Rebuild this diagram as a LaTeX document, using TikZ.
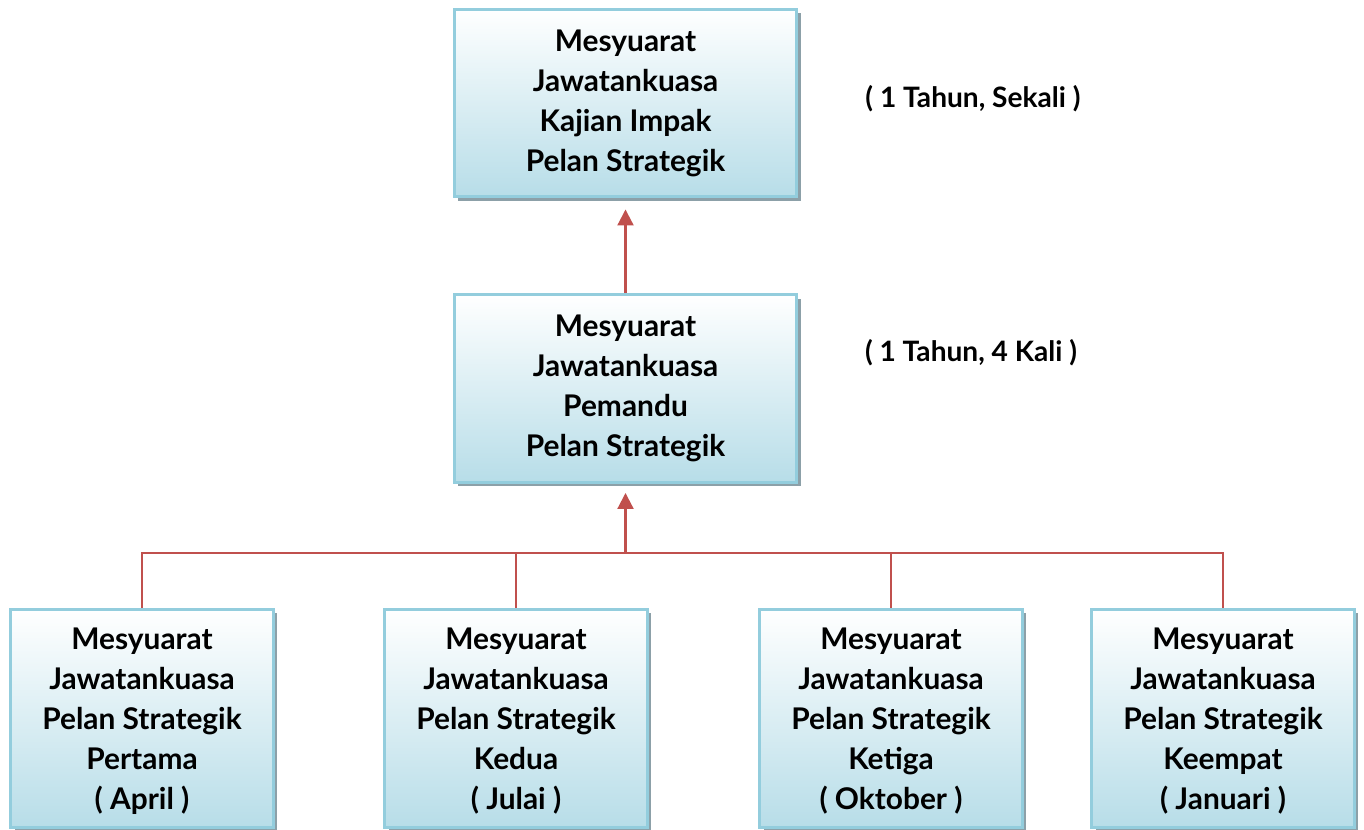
\documentclass[tikz,border=0pt]{standalone}
\usepackage{fontspec}
\setmainfont{Lato}
\usepackage{tikz}
\usetikzlibrary{positioning,arrows.meta,shadows}
\definecolor{boxline}{RGB}{147,205,221}
\definecolor{boxfill}{RGB}{183,221,232}
\definecolor{shadowgrey}{RGB}{140,160,168}
\definecolor{linkred}{RGB}{192,80,77}
\tikzset{
    meet/.style={
        rectangle,
        draw=boxline,
        line width=1.7pt,
        top color=white,
        bottom color=boxfill,
        drop shadow={shadow xshift=0.08cm,shadow yshift=-0.08cm,fill=shadowgrey,opacity=1},
        align=center,
        inner sep=2pt,
        font=\fontsize{17}{22.8}\selectfont\bfseries
    },
    bigmeet/.style={meet,minimum width=6.86cm,minimum height=3.76cm},
    smallmeet/.style={meet,minimum width=5.26cm,minimum height=4.38cm,text depth=-0.1cm},
    link/.style={linkred,line width=1.2pt},
    arr/.style={link,-{Triangle[width=0.32cm,length=0.32cm]}},
    freq/.style={font=\fontsize{16}{19}\selectfont\bfseries}
}
\begin{document}
\begin{tikzpicture}[x=0.02cm,y=-0.02cm]
\useasboundingbox (0,0) rectangle (1364,830);

% Upper levels
\node[bigmeet] (kajian) at (625.5,103) {Mesyuarat\\Jawatankuasa\\Kajian Impak\\Pelan Strategik};
\node[bigmeet] (pemandu) at (625.5,388.5) {Mesyuarat\\Jawatankuasa\\Pemandu\\Pelan Strategik};

\node[freq] (sekali) at (973,99) {( 1 Tahun, Sekali )};
\node[freq] (empat) at (971,353) {( 1 Tahun, 4 Kali )};

% Quarterly meetings
\node[smallmeet] (pertama) at (142,718.5) {Mesyuarat\\Jawatankuasa\\Pelan Strategik\\Pertama\\( April )};
\node[smallmeet] (kedua) at (516,718.5) {Mesyuarat\\Jawatankuasa\\Pelan Strategik\\Kedua\\( Julai )};
\node[smallmeet] (ketiga) at (891,718.5) {Mesyuarat\\Jawatankuasa\\Pelan Strategik\\Ketiga\\( Oktober )};
\node[smallmeet] (keempat) at (1223,718.5) {Mesyuarat\\Jawatankuasa\\Pelan Strategik\\Keempat\\( Januari )};

\coordinate (bus) at (626,553);

\draw[arr,shorten >=0.22cm] (pemandu.north) -- (kajian.south);
\draw[arr,shorten >=0.18cm] (pemandu.south |- bus) -- (pemandu.south);
\draw[link] (pertama.north) |- (keempat.north |- bus) -- (keempat.north);
\draw[link] (kedua.north) -- (kedua.north |- bus);
\draw[link] (ketiga.north) -- (ketiga.north |- bus);

\end{tikzpicture}
\end{document}
